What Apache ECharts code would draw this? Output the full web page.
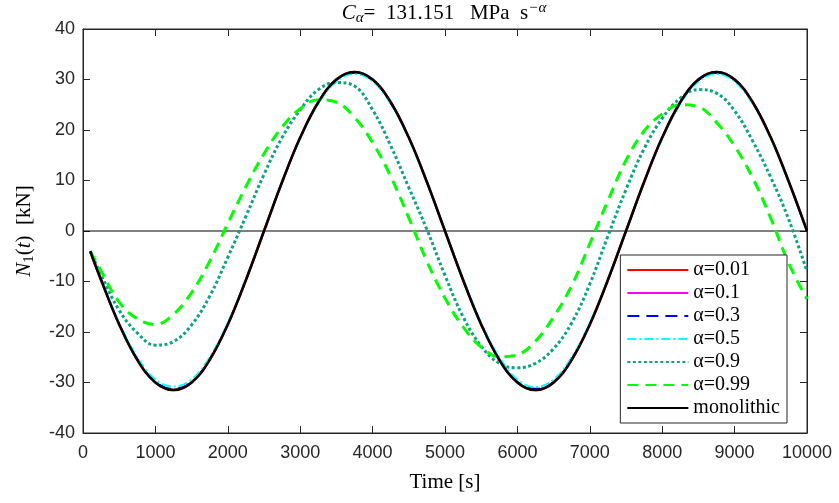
<!DOCTYPE html>
<html>
<head>
<meta charset="utf-8">
<script src="https://cdn.jsdelivr.net/npm/echarts@6/dist/echarts.min.js"></script>
<style>
  html, body { margin: 0; padding: 0; background: #fff; }
  #main { width: 839px; height: 503px; }
</style>
</head>
<body>
<div id="main"></div>
<script>
// time samples [s]
var timeS = [100, 250, 500, 750, 1000, 1250, 1500, 1750, 2000, 2250, 2500, 2750, 3000, 3250, 3500, 3750,
  4000, 4250, 4500, 4750, 5000, 5250, 5500, 5750, 6000, 6250, 6500, 6750, 7000, 7250, 7500, 7750,
  8000, 8250, 8500, 8750, 9000, 9250, 9500, 9750, 10000];

// N1(t) [kN]
var alpha001 = [-4.0, -9.7, -18.5, -25.5, -30.0, -31.5, -30.0, -25.5, -18.5, -9.7, 0.0, 9.7, 18.5, 25.5, 30.0, 31.5,
  30.0, 25.5, 18.5, 9.7, 0.0, -9.7, -18.5, -25.5, -30.0, -31.5, -30.0, -25.5, -18.5, -9.7, 0.0, 9.7,
  18.5, 25.5, 30.0, 31.5, 30.0, 25.5, 18.5, 9.7, 0.0];
var alpha01 = [-4.0, -9.7, -18.5, -25.5, -30.0, -31.4, -30.0, -25.5, -18.5, -9.7, 0.0, 9.7, 18.5, 25.5, 30.0, 31.4,
  30.0, 25.5, 18.5, 9.7, 0.0, -9.7, -18.5, -25.5, -30.0, -31.4, -30.0, -25.5, -18.5, -9.7, 0.0, 9.7,
  18.5, 25.5, 30.0, 31.4, 30.0, 25.5, 18.5, 9.7, 0.0];
var alpha03 = [-4.0, -9.6, -18.4, -25.3, -29.8, -31.2, -29.8, -25.3, -18.4, -9.6, 0.0, 9.6, 18.4, 25.3, 29.8, 31.3,
  29.8, 25.3, 18.4, 9.6, 0.0, -9.6, -18.4, -25.3, -29.8, -31.2, -29.8, -25.3, -18.4, -9.6, 0.0, 9.6,
  18.4, 25.3, 29.8, 31.3, 29.8, 25.3, 18.4, 9.6, 0.0];
var alpha05 = [-4.0, -9.5, -18.2, -25.0, -29.4, -30.8, -29.4, -25.0, -18.2, -9.5, 0.1, 9.6, 18.3, 25.2, 29.6, 31.1,
  29.6, 25.2, 18.3, 9.6, 0.1, -9.5, -18.2, -25.0, -29.4, -30.9, -29.4, -25.0, -18.2, -9.5, 0.1, 9.6,
  18.3, 25.2, 29.6, 31.1, 29.6, 25.2, 18.3, 9.6, 0.1];
var alpha09 = [-4.0, -8.7, -15.7, -20.2, -22.6, -21.9, -18.6, -12.9, -5.2, 2.9, 11.2, 18.5, 24.0, 28.0, 29.4, 28.7,
  24.0, 16.9, 8.6, 0.3, -8.8, -17.0, -22.8, -26.2, -27.1, -26.2, -23.3, -18.2, -10.5, -1.0, 8.2, 16.3,
  22.3, 26.3, 28.0, 27.3, 23.8, 17.8, 10.6, 2.2, -8.0];
var alpha099 = [-4.0, -7.9, -14.1, -17.4, -18.5, -16.5, -12.2, -6.0, 1.5, 8.8, 15.3, 20.6, 24.2, 26.0, 25.5, 22.5,
  17.5, 10.8, 2.6, -6.0, -13.3, -19.0, -23.0, -24.9, -24.5, -21.8, -17.0, -10.8, -2.5, 6.0, 14.0, 19.8,
  23.2, 25.0, 24.6, 21.5, 16.8, 10.5, 2.5, -6.5, -13.5];
var monolithic = [-4.0, -9.7, -18.5, -25.5, -30.0, -31.5, -30.0, -25.5, -18.5, -9.7, 0.0, 9.7, 18.5, 25.5, 30.0, 31.5,
  30.0, 25.5, 18.5, 9.7, 0.0, -9.7, -18.5, -25.5, -30.0, -31.5, -30.0, -25.5, -18.5, -9.7, 0.0, 9.7,
  18.5, 25.5, 30.0, 31.5, 30.0, 25.5, 18.5, 9.7, 0.0];

var seriesNames = ['α=0.01', 'α=0.1', 'α=0.3', 'α=0.5', 'α=0.9', 'α=0.99', 'monolithic'];
var xTicks = { min: 0, max: 10000, step: 1000 };
var yTicks = { min: -40, max: 40, step: 10 };

var AX = '#262626';
var SERIF = 'Liberation Serif';
var SANS = 'Liberation Sans';

function pairs(vals) {
  return timeS.map(function (t, i) { return [t, vals[i]]; });
}

function curve(name, vals, color, width, type) {
  return {
    name: name,
    type: 'line',
    data: pairs(vals),
    smooth: 0.4,
    symbol: 'none',
    showSymbol: false,
    lineStyle: { color: color, width: width, type: type },
    itemStyle: { color: color }
  };
}

var chart = echarts.init(document.getElementById('main'));

chart.setOption({
  animation: false,
  backgroundColor: '#fff',
  grid: {
    left: 83, right: 32, top: 29, bottom: 70,
    show: true, borderColor: AX, borderWidth: 1, backgroundColor: '#fff'
  },
  graphic: [{
    type: 'text',
    x: 444, y: 1,
    style: {
      text: '{i|C}{s|α}{n|=  131.151   MPa  s}{p|−α}',
      align: 'center',
      verticalAlign: 'top',
      rich: {
        i: { fontFamily: SERIF, fontStyle: 'italic', fontSize: 21, lineHeight: 25, fill: '#000' },
        s: { fontFamily: SERIF, fontStyle: 'italic', fontSize: 15, lineHeight: 15, verticalAlign: 'bottom', fill: '#000' },
        n: { fontFamily: SERIF, fontSize: 21, lineHeight: 25, fill: '#000' },
        p: { fontFamily: SERIF, fontStyle: 'italic', fontSize: 15, lineHeight: 15, verticalAlign: 'top', fill: '#000' }
      }
    }
  }],
  legend: {
    data: seriesNames,
    orient: 'vertical',
    right: 52, top: 255,
    padding: [5, 7, 5, 6],
    backgroundColor: '#fff',
    borderColor: AX, borderWidth: 1, borderRadius: 0,
    itemWidth: 61, itemHeight: 14, itemGap: 3,
    itemStyle: { opacity: 0 },
    textStyle: { fontFamily: SERIF, fontSize: 20, lineHeight: 14, color: '#000' }
  },
  xAxis: [{
    type: 'value', min: xTicks.min, max: xTicks.max, interval: xTicks.step,
    axisLine: { show: true, onZero: false, lineStyle: { color: AX } },
    axisTick: { inside: true, length: 7, lineStyle: { color: AX } },
    axisLabel: { fontFamily: SANS, fontSize: 18, color: AX, margin: 11, formatter: function (v) { return String(v); } },
    splitLine: { show: false },
    name: 'Time [s]', nameLocation: 'middle', nameGap: 39,
    nameTextStyle: { fontFamily: SERIF, fontSize: 21, color: '#000' }
  }, {
    type: 'value', position: 'top', min: xTicks.min, max: xTicks.max, interval: xTicks.step,
    axisLine: { show: true, onZero: false, lineStyle: { color: AX } },
    axisTick: { inside: true, length: 7, lineStyle: { color: AX } },
    axisLabel: { show: false }, splitLine: { show: false }
  }],
  yAxis: [{
    type: 'value', min: yTicks.min, max: yTicks.max, interval: yTicks.step,
    axisLine: { show: true, onZero: false, lineStyle: { color: AX } },
    axisTick: { inside: true, length: 7, lineStyle: { color: AX } },
    axisLabel: { fontFamily: SANS, fontSize: 18, color: AX, margin: 8 },
    splitLine: { show: false },
    name: '{i|N}{s|1}{n|(}{i|t}{n|)  [kN]}', nameLocation: 'middle', nameGap: 46, nameRotate: 90,
    nameTextStyle: {
      rich: {
        i: { fontFamily: SERIF, fontStyle: 'italic', fontSize: 21, lineHeight: 25, color: '#000' },
        s: { fontFamily: SERIF, fontSize: 15, lineHeight: 15, verticalAlign: 'bottom', color: '#000' },
        n: { fontFamily: SERIF, fontSize: 21, lineHeight: 25, color: '#000' }
      }
    }
  }, {
    type: 'value', position: 'right', min: yTicks.min, max: yTicks.max, interval: yTicks.step,
    axisLine: { show: true, onZero: false, lineStyle: { color: AX } },
    axisTick: { inside: true, length: 7, lineStyle: { color: AX } },
    axisLabel: { show: false }, splitLine: { show: false }
  }],
  series: [
    {
      name: 'zero', type: 'line', data: [[xTicks.min, 0], [xTicks.max, 0]],
      symbol: 'none', silent: true, lineStyle: { color: '#000', width: 1 }
    },
    curve(seriesNames[0], alpha001, '#ff0000', 2.5, 'solid'),
    curve(seriesNames[1], alpha01, '#ff00ff', 1, 'solid'),
    curve(seriesNames[2], alpha03, '#0000ff', 1.5, [12, 7]),
    curve(seriesNames[3], alpha05, '#00ffff', 2, [9, 3, 2, 3]),
    curve(seriesNames[4], alpha09, '#0ba383', 3, [3, 2.5]),
    curve(seriesNames[5], alpha099, '#00ff00', 3, [11, 7]),
    curve(seriesNames[6], monolithic, '#000000', 2.5, 'solid')
  ]
});
</script>
</body>
</html>
